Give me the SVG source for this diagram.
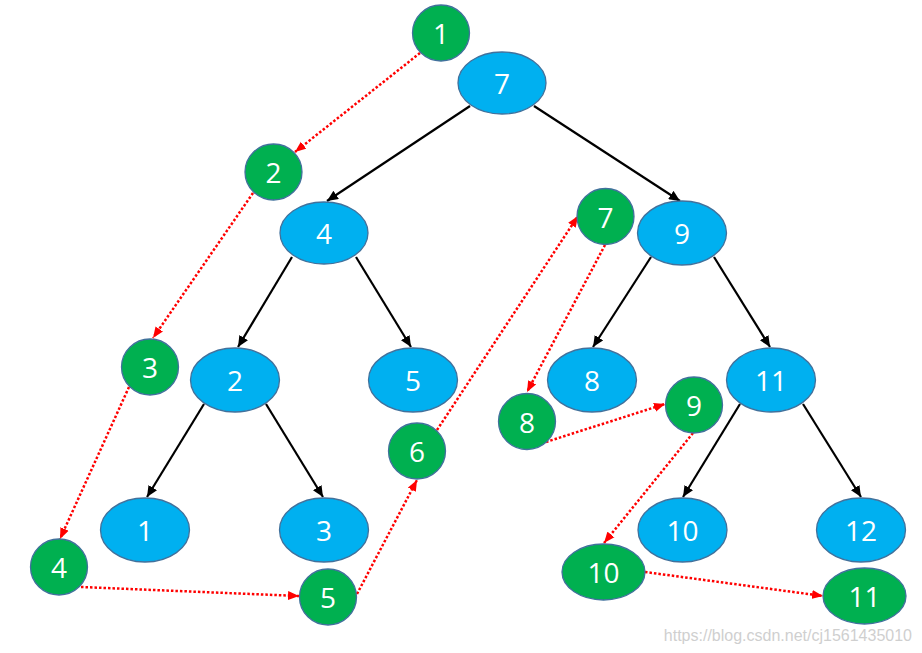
<svg xmlns="http://www.w3.org/2000/svg" width="922" height="653" viewBox="0 0 922 653">
<defs>
<style>
.tree{fill:#00B0F0;stroke:#41719C;stroke-width:1.3}
.trav{fill:#00B050;stroke:#41719C;stroke-width:1.3}
.lbl{font-family:"Open Sans","Noto Sans",sans-serif;font-size:28px;fill:#fff;text-anchor:middle;dominant-baseline:central}
.edge{stroke:#000;stroke-width:2.2;fill:none;marker-end:url(#ab)}
.walk{stroke:#FF0000;stroke-width:2.5;stroke-dasharray:2.5 2;fill:none;marker-end:url(#ar)}
</style>
<marker id="ab" markerUnits="userSpaceOnUse" markerWidth="12" markerHeight="10" refX="11" refY="5" orient="auto"><path d="M0,0 L11,5 L0,10 z" fill="#000"/></marker>
<marker id="ar" markerUnits="userSpaceOnUse" markerWidth="12" markerHeight="10" refX="11" refY="5" orient="auto"><path d="M0,0.5 L11,5 L0,9.5 z" fill="#FF0000"/></marker>
</defs>
<rect width="922" height="653" fill="#fff"/>
<g id="connectors">
<line class="edge" x1="470" y1="106" x2="327" y2="201"/>
<line class="edge" x1="534" y1="106" x2="680" y2="201"/>
<line class="edge" x1="292" y1="257" x2="238" y2="347"/>
<line class="edge" x1="356" y1="257" x2="411" y2="347"/>
<line class="edge" x1="204" y1="404" x2="147" y2="497"/>
<line class="edge" x1="266" y1="404" x2="323" y2="497"/>
<line class="edge" x1="651" y1="257" x2="593" y2="347"/>
<line class="edge" x1="714" y1="257" x2="770" y2="347"/>
<line class="edge" x1="740" y1="404" x2="683" y2="497"/>
<line class="edge" x1="803" y1="404" x2="861" y2="497"/>
<line class="walk" x1="420" y1="53" x2="295" y2="152"/>
<line class="walk" x1="253" y1="193" x2="153" y2="338"/>
<line class="walk" x1="129" y1="387" x2="60" y2="539"/>
<line class="walk" x1="81" y1="587" x2="299" y2="596"/>
<line class="walk" x1="357" y1="594" x2="417" y2="480"/>
<line class="walk" x1="437" y1="430" x2="578" y2="216"/>
<line class="walk" x1="605" y1="245" x2="527" y2="392"/>
<line class="walk" x1="546" y1="442" x2="665" y2="404"/>
<line class="walk" x1="693" y1="433" x2="604" y2="543"/>
<line class="walk" x1="645" y1="572" x2="823" y2="596"/>
</g>
<g id="t7"><ellipse class="tree" cx="502" cy="83" rx="44" ry="31"/><text class="lbl" x="502" y="83">7</text></g>
<g id="t4"><ellipse class="tree" cx="324" cy="233" rx="44" ry="31"/><text class="lbl" x="324" y="233">4</text></g>
<g id="t9"><ellipse class="tree" cx="682" cy="233" rx="44.5" ry="32"/><text class="lbl" x="682" y="233">9</text></g>
<g id="t2"><ellipse class="tree" cx="235" cy="380" rx="44.5" ry="32"/><text class="lbl" x="235" y="380">2</text></g>
<g id="t5"><ellipse class="tree" cx="413" cy="380" rx="44.5" ry="32"/><text class="lbl" x="413" y="380">5</text></g>
<g id="t8"><ellipse class="tree" cx="592" cy="380" rx="44.5" ry="32"/><text class="lbl" x="592" y="380">8</text></g>
<g id="t11"><ellipse class="tree" cx="771" cy="380" rx="44.5" ry="32"/><text class="lbl" x="771" y="380">11</text></g>
<g id="t1"><ellipse class="tree" cx="145" cy="530" rx="44.5" ry="32"/><text class="lbl" x="145" y="530">1</text></g>
<g id="t3"><ellipse class="tree" cx="324" cy="530" rx="44.5" ry="32"/><text class="lbl" x="324" y="530">3</text></g>
<g id="t10"><ellipse class="tree" cx="682.5" cy="530" rx="44.5" ry="32"/><text class="lbl" x="682.5" y="530">10</text></g>
<g id="t12"><ellipse class="tree" cx="861" cy="530" rx="44.5" ry="32"/><text class="lbl" x="861" y="530">12</text></g>
<g id="s1"><ellipse class="trav" cx="441" cy="33" rx="28.5" ry="28"/><text class="lbl" x="441" y="33">1</text></g>
<g id="s2"><ellipse class="trav" cx="273.5" cy="172" rx="28.5" ry="28"/><text class="lbl" x="273.5" y="172">2</text></g>
<g id="s3"><ellipse class="trav" cx="150" cy="367" rx="28.5" ry="28"/><text class="lbl" x="150" y="367">3</text></g>
<g id="s4"><ellipse class="trav" cx="59" cy="567" rx="28.5" ry="28"/><text class="lbl" x="59" y="567">4</text></g>
<g id="s5"><ellipse class="trav" cx="328" cy="597" rx="28.5" ry="28"/><text class="lbl" x="328" y="597">5</text></g>
<g id="s6"><ellipse class="trav" cx="417" cy="451" rx="28.5" ry="28"/><text class="lbl" x="417" y="451">6</text></g>
<g id="s7"><ellipse class="trav" cx="605.5" cy="216.5" rx="28.5" ry="28"/><text class="lbl" x="605.5" y="216.5">7</text></g>
<g id="s8"><ellipse class="trav" cx="527" cy="421.5" rx="28.5" ry="28"/><text class="lbl" x="527" y="421.5">8</text></g>
<g id="s9"><ellipse class="trav" cx="694" cy="405" rx="28.5" ry="28"/><text class="lbl" x="694" y="405">9</text></g>
<g id="s10"><ellipse class="trav" cx="603.5" cy="572" rx="41.5" ry="28"/><text class="lbl" x="603.5" y="572">10</text></g>
<g id="s11"><ellipse class="trav" cx="864.5" cy="596" rx="41.5" ry="28"/><text class="lbl" x="864.5" y="596">11</text></g>
<text x="912" y="641" font-family="Liberation Sans, Arial, sans-serif" font-size="16" fill="#cfcfcf" text-anchor="end">https://blog.csdn.net/cj1561435010</text>
</svg>
